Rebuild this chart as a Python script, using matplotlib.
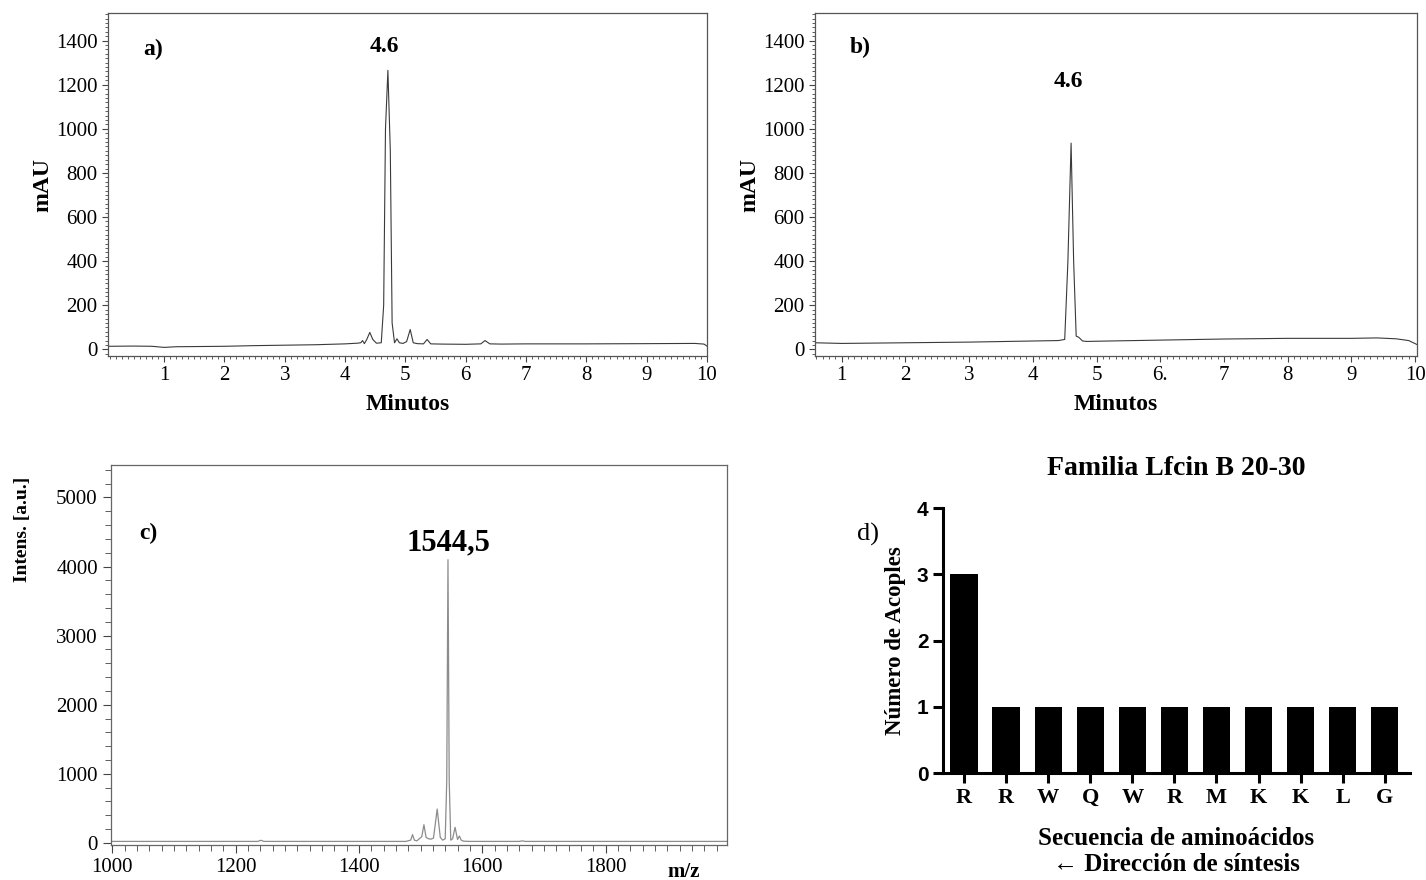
import numpy as np
import matplotlib
matplotlib.use("Agg")
import matplotlib.pyplot as plt
from matplotlib.ticker import MultipleLocator

SERIF = "Liberation Serif"
SANS = "Liberation Sans"

# a) HPLC chromatogram (time in min, absorbance in mAU)
time_a = [0.07, 0.5, 0.8, 1.0, 1.2, 1.6, 2.0, 2.5, 3.0, 3.5, 4.0, 4.2, 4.26, 4.29, 4.32,
          4.36, 4.41, 4.46, 4.52, 4.60, 4.64, 4.67, 4.71, 4.75, 4.78, 4.82, 4.86, 4.90,
          4.96, 5.02, 5.08, 5.13, 5.2, 5.3, 5.36, 5.42, 5.6, 6.0, 6.25, 6.32, 6.4, 6.6,
          7.0, 8.0, 9.0, 9.8, 9.95, 10.0]
mau_a = [14, 15, 14, 9, 12, 13, 14, 17, 19, 21, 25, 28, 30, 40, 26,
         45, 77, 45, 28, 30, 200, 1000, 1265, 900, 120, 30, 48, 30,
         27, 35, 90, 30, 26, 25, 45, 25, 24, 23, 25, 40, 25, 24,
         25, 25, 26, 27, 24, 15]

# b) HPLC chromatogram of the purified peptide
time_b = [0.58, 1.0, 2.0, 3.0, 4.0, 4.4, 4.50, 4.55, 4.60, 4.64, 4.68, 4.72, 4.78, 4.85,
          5.0, 6.0, 7.0, 8.0, 9.0, 9.4, 9.7, 9.9, 10.03]
mau_b = [30, 27, 30, 33, 38, 40, 45, 400, 935, 400, 60, 55, 38, 36,
         37, 42, 47, 50, 50, 52, 48, 40, 22]

# c) MALDI-TOF spectrum
mz_c = [998, 1236, 1241, 1246, 1476, 1484, 1487, 1490, 1494, 1498, 1502, 1505.5, 1509,
        1513, 1517, 1521, 1527, 1532, 1536, 1540, 1542.5, 1544.5, 1546.5, 1549, 1552,
        1556, 1560, 1563, 1566, 1570, 1580, 1660, 1665, 1670, 1997]
int_c = [22, 22, 38, 22, 22, 40, 120, 40, 30, 60, 90, 264, 80, 60, 55, 70, 490, 80, 40,
         60, 900, 4100, 900, 40, 60, 226, 50, 100, 40, 25, 22, 22, 30, 22, 22]

# d) couplings per residue
residues = ["R", "R", "W", "Q", "W", "R", "M", "K", "K", "L", "G"]
couplings = [3, 1, 1, 1, 1, 1, 1, 1, 1, 1, 1]

W, H = 1426, 880
fig = plt.figure(figsize=(W / 100, H / 100), dpi=100)


def box(x0, y0, x1, y1):
    # pixel box (top-left origin) -> figure fraction
    return [x0 / W, 1 - y1 / H, (x1 - x0) / W, (y1 - y0) / H]


def style_chrom(ax, frame_col="#555555"):
    for s in ax.spines.values():
        s.set_color(frame_col)
        s.set_linewidth(0.9)
    ax.tick_params(which="both", direction="out", colors="#444444", labelcolor="black")
    ax.tick_params(which="major", length=4, width=0.8, labelsize=15)
    ax.tick_params(which="minor", length=2, width=0.6)
    for lab in ax.get_xticklabels() + ax.get_yticklabels():
        lab.set_family(SERIF)


def chromatogram(ax, t, y, xlim, xticklabels, peak_txt, peak_xy, tag_xy, tag):
    ax.plot(t, y, color="#3a3a3a", lw=0.8)
    ax.set_xlim(*xlim)
    ax.set_ylim(-30, 1525)
    ax.set_xticks(range(1, 11))
    ax.set_xticklabels(xticklabels)
    ax.set_yticks(range(0, 1401, 200))
    ax.xaxis.set_minor_locator(MultipleLocator(0.1))
    ax.yaxis.set_minor_locator(MultipleLocator(20))
    style_chrom(ax)
    ax.set_xlabel("Minutos", family=SERIF, fontweight="bold", fontsize=17, labelpad=6)
    ax.set_ylabel("mAU", family=SERIF, fontweight="bold", fontsize=17, labelpad=2)
    ax.text(*peak_xy, peak_txt, family=SERIF, fontweight="bold", fontsize=17,
            ha="center", va="center", transform=ax.transData)
    ax.text(*tag_xy, tag, family=SERIF, fontweight="bold", fontsize=17,
            ha="center", va="center", transform=ax.transAxes)


ax_a = fig.add_axes(box(108, 13, 707, 356))
chromatogram(ax_a, time_a, mau_a, (0.07, 10.0),
             [str(i) for i in range(1, 11)], "4.6", (4.65, 1375), (0.075, 0.895), "a)")

ax_b = fig.add_axes(box(815, 13, 1417, 356))
chromatogram(ax_b, time_b, mau_b, (0.58, 10.03),
             ["1", "2", "3", "4", "5", "6.", "7", "8", "9", "10"], "4.6", (4.55, 1215),
             (0.075, 0.9), "b)")

# c) mass spectrum
ax_c = fig.add_axes(box(111, 465, 727, 845))
ax_c.plot(mz_c, int_c, color="#8c8c8c", lw=0.9)
ax_c.set_xlim(998, 1997)
ax_c.set_ylim(-30, 5470)
ax_c.set_xticks(range(1000, 1801, 200))
ax_c.set_yticks(range(0, 5001, 1000))
ax_c.xaxis.set_minor_locator(MultipleLocator(20))
ax_c.yaxis.set_minor_locator(MultipleLocator(200))
style_chrom(ax_c, "#666666")
ax_c.tick_params(which="major", length=6)
ax_c.tick_params(which="minor", length=4)
ax_c.set_ylabel("Intens. [a.u.]", family=SERIF, fontweight="bold", fontsize=14)
ax_c.yaxis.set_label_coords(-0.13, 0.83)
ax_c.text(1544.5, 4340, "1544,5", family=SERIF, fontweight="bold", fontsize=22,
          ha="center", va="center")
ax_c.text(0.06, 0.82, "c)", family=SERIF, fontweight="bold", fontsize=17,
          ha="center", va="center", transform=ax_c.transAxes)
ax_c.text(0.956, -0.07, "m/z", family=SERIF, fontweight="bold", fontsize=15,
          ha="right", va="center", transform=ax_c.transAxes)

# d) bar chart
ax_d = fig.add_axes(box(943, 508, 1410, 773))
ax_d.bar(range(len(residues)), couplings, width=0.65, color="black")
ax_d.set_xlim(-0.5, 10.6)
ax_d.set_ylim(0, 4)
ax_d.set_yticks(range(0, 5))
ax_d.set_xticks(range(len(residues)))
ax_d.set_xticklabels(residues)
for s in ["top", "right"]:
    ax_d.spines[s].set_visible(False)
for s in ["left", "bottom"]:
    ax_d.spines[s].set_linewidth(2.2)
ax_d.tick_params(direction="out", length=7, width=2.2)
for lab in ax_d.get_yticklabels():
    lab.set_family(SANS)
    lab.set_fontweight("bold")
    lab.set_fontsize(15)
for lab in ax_d.get_xticklabels():
    lab.set_family(SERIF)
    lab.set_fontweight("bold")
    lab.set_fontsize(16)
ax_d.set_title("Familia Lfcin B 20-30", family=SERIF, fontweight="bold", fontsize=20, pad=24)
ax_d.set_ylabel("Número de Acoples", family=SERIF, fontweight="bold", fontsize=16.5, labelpad=8)
ax_d.set_xlabel("Secuencia de aminoácidos\n\u2190 Dirección de síntesis", family=SERIF,
                fontweight="bold", fontsize=18, labelpad=14, linespacing=1.15)
ax_d.text(-0.16, 0.9, "d)", family=SERIF, fontsize=19, ha="center", va="center",
          transform=ax_d.transAxes)

fig.savefig("out.png", dpi=100)
